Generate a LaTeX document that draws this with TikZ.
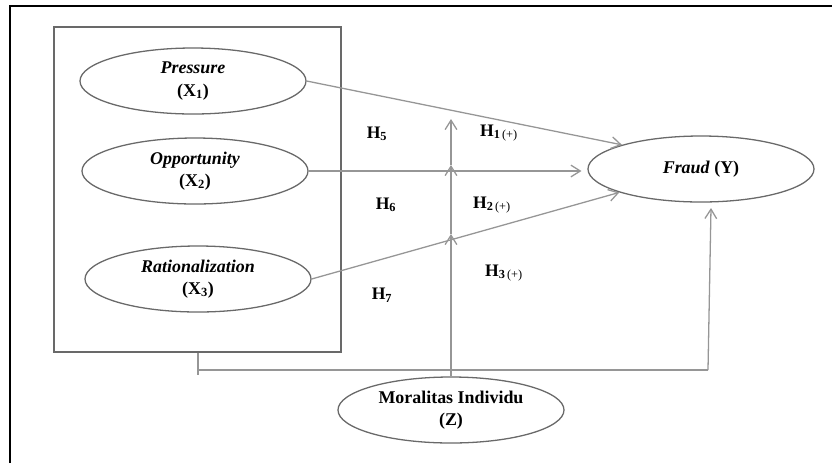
\documentclass[tikz,border=0pt]{standalone}
\usepackage{fontspec}
\setmainfont{Liberation Serif}
\usetikzlibrary{shapes.geometric,arrows.meta}

\definecolor{linegray}{RGB}{150,150,150}
\definecolor{rimgray}{RGB}{105,105,105}

\tikzset{
  construct/.style={ellipse, draw=rimgray, line width=1.1pt, minimum width=6.78cm,
    minimum height=1.98cm, inner sep=0pt, align=center,
    font=\fontsize{15.3}{19}\selectfont\bfseries},
  hyp/.style={font=\fontsize{15}{17}\selectfont\bfseries, inner sep=0pt},
  path/.style={draw=linegray, line width=1.1pt, -{Straight Barb[length=8pt,width=10pt]}},
  plain/.style={draw=linegray, line width=1.1pt}
}

\begin{document}
\begin{tikzpicture}[x=0.03cm, y=-0.03cm]
  \useasboundingbox (0,0) rectangle (832,463);
  % outer frame, only two sides show
  \draw[line width=1.6pt] (10,463) -- (10,6) -- (832,6);
  % box round the three fraud triangle constructs
  \node[draw=rimgray, line width=1pt, minimum width=8.61cm, minimum height=9.75cm,
    inner sep=0pt] (tri) at (197.5,189.5) {};

  \node[construct] (X1) at (193,81) {\textit{Pressure}\\(X\textsubscript{1})};
  \node[construct] (X2) at (195,171) {\textit{Opportunity}\\(X\textsubscript{2})};
  \node[construct] (X3) at (198,279) {\textit{Rationalization}\\(X\textsubscript{3})};
  \node[construct] (Y) at (701,169) {\textit{Fraud} (Y)};
  \node[construct] (Z) at (451,410) {Moralitas Individu\\(Z)};

  % direct paths
  \draw[path] (X1.east) -- (Y.163);
  \draw[path, shorten >=5pt] (X2.east) -- (X2.east -| Y.west);
  \draw[path] (X3.east) -- (Y.196);

  % moderation
  \coordinate (m3) at (451,234);
  \coordinate (m2) at (451,165);
  \coordinate (m1) at (451,119);
  \draw[path] (Z.north) -- (m3);
  \draw[path] (m3) -- (m2);
  \draw[path] (m2) -- (m1);

  % bracket from the box to fraud
  \coordinate (b0) at (198,375);
  \coordinate (b1) at (198,370);
  \coordinate (b2) at (708,370);
  \coordinate (b3) at (711,208);
  \draw[plain] (tri.south -| b0) -- (b0);
  \draw[plain] (b1) -- (b2);
  \draw[path] (b2) -- (b3);

  % hypothesis labels
  \node[hyp] (h5) at (377,134) {H\textsubscript{5}};
  \node[hyp] (h6) at (386,205) {H\textsubscript{6}};
  \node[hyp] (h7) at (382,295) {H\textsubscript{7}};
  \node[hyp] (h1) at (499,133) {H\textsubscript{1\,\mdseries(+)}};
  \node[hyp] (h2) at (492,205) {H\textsubscript{2\,\mdseries(+)}};
  \node[hyp] (h3) at (504,273) {H\textsubscript{3\,\mdseries(+)}};
\end{tikzpicture}
\end{document}
